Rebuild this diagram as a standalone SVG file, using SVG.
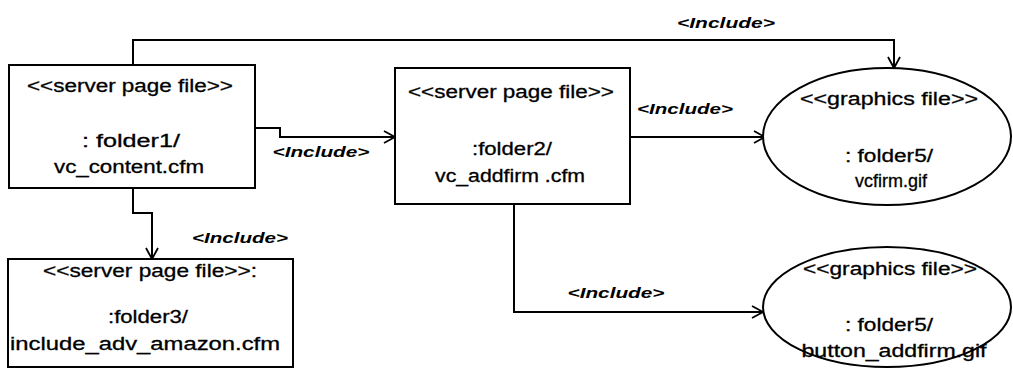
<svg xmlns="http://www.w3.org/2000/svg" width="1013" height="371" viewBox="0 0 1013 371">
  <style>
    .shape { fill: #ffffff; stroke: #000000; stroke-width: 2; }
    .conn { fill: none; stroke: #000000; stroke-width: 2; }
    .txt { font-family: "Liberation Sans", Arial, sans-serif; font-size: 18px; fill: #000000; stroke: #000000; stroke-width: 0.3; text-anchor: middle; }
    .lbl { font-family: "Liberation Sans", Arial, sans-serif; font-size: 14px; font-style: italic; font-weight: bold; fill: #000000; text-anchor: middle; }
  </style>
  <defs>
    <marker id="open-arrow" markerUnits="userSpaceOnUse" markerWidth="16" markerHeight="16" refX="0" refY="0" viewBox="-12 -8 14 16" orient="auto">
      <path d="M-11,-6 L0,0 L-11,6" fill="none" stroke="#000000" stroke-width="1.8"/>
    </marker>
  </defs>
  <rect width="1013" height="371" fill="#ffffff"/>

  <!-- include dependencies -->
  <g id="connectors">
    <path class="conn" d="M133,65 V40 H894 V68" marker-end="url(#open-arrow)"/>
    <path class="conn" d="M255,128 H280 V137 H395" marker-end="url(#open-arrow)"/>
    <path class="conn" d="M630,137 H765" marker-end="url(#open-arrow)"/>
    <path class="conn" d="M514,204 V312 H763" marker-end="url(#open-arrow)"/>
    <path class="conn" d="M133,188 V213 H152 V259" marker-end="url(#open-arrow)"/>
    <text class="lbl" x="726" y="28" textLength="98" lengthAdjust="spacingAndGlyphs">&lt;Include&gt;</text>
    <text class="lbl" x="321" y="157" textLength="97" lengthAdjust="spacingAndGlyphs">&lt;Include&gt;</text>
    <text class="lbl" x="685" y="114" textLength="96" lengthAdjust="spacingAndGlyphs">&lt;Include&gt;</text>
    <text class="lbl" x="240" y="243" textLength="96" lengthAdjust="spacingAndGlyphs">&lt;Include&gt;</text>
    <text class="lbl" x="616" y="298" textLength="97" lengthAdjust="spacingAndGlyphs">&lt;Include&gt;</text>
  </g>

  <g id="vc_content">
    <rect class="shape" x="9" y="65" width="246" height="123"/>
    <text class="txt" x="130" y="92" textLength="206" lengthAdjust="spacingAndGlyphs">&lt;&lt;server page file&gt;&gt;</text>
    <text class="txt" x="131" y="147" textLength="98" lengthAdjust="spacingAndGlyphs">: folder1/</text>
    <text class="txt" x="129" y="173" textLength="150" lengthAdjust="spacingAndGlyphs">vc_content.cfm</text>
  </g>

  <g id="vc_addfirm">
    <rect class="shape" x="395" y="68" width="235" height="136"/>
    <text class="txt" x="511" y="98" textLength="206" lengthAdjust="spacingAndGlyphs">&lt;&lt;server page file&gt;&gt;</text>
    <text class="txt" x="512" y="155" textLength="80" lengthAdjust="spacingAndGlyphs">:folder2/</text>
    <text class="txt" x="510" y="182" textLength="150" lengthAdjust="spacingAndGlyphs">vc_addfirm .cfm</text>
  </g>

  <g id="include_adv_amazon">
    <rect class="shape" x="8" y="259" width="285" height="108"/>
    <text class="txt" x="150" y="277" textLength="214" lengthAdjust="spacingAndGlyphs">&lt;&lt;server page file&gt;&gt;:</text>
    <text class="txt" x="148" y="323" textLength="80" lengthAdjust="spacingAndGlyphs">:folder3/</text>
    <text class="txt" x="145" y="350" textLength="270" lengthAdjust="spacingAndGlyphs">include_adv_amazon.cfm</text>
  </g>

  <g id="vcfirm_gif">
    <ellipse class="shape" cx="887" cy="136.5" rx="124" ry="68.5"/>
    <text class="txt" x="889" y="105" textLength="178" lengthAdjust="spacingAndGlyphs">&lt;&lt;graphics file&gt;&gt;</text>
    <text class="txt" x="889" y="162" textLength="88" lengthAdjust="spacingAndGlyphs">: folder5/</text>
    <text class="txt" x="891" y="187">vcfirm.gif</text>
  </g>

  <g id="button_addfirm_gif">
    <ellipse class="shape" cx="887" cy="307" rx="124" ry="60"/>
    <text class="txt" x="890" y="275" textLength="174" lengthAdjust="spacingAndGlyphs">&lt;&lt;graphics file&gt;&gt;</text>
    <text class="txt" x="889" y="331" textLength="88" lengthAdjust="spacingAndGlyphs">: folder5/</text>
    <text class="txt" x="894" y="357" textLength="185" lengthAdjust="spacingAndGlyphs">button_addfirm.gif</text>
  </g>
</svg>
